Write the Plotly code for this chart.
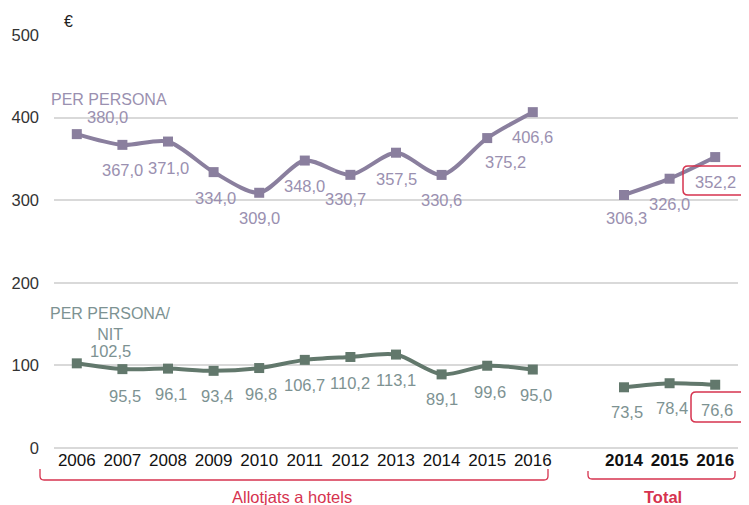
import plotly.graph_objects as go

# ---- data ----
hotel_years = ["2006", "2007", "2008", "2009", "2010", "2011", "2012", "2013", "2014", "2015", "2016"]
total_years = ["2014", "2015", "2016"]
hotel_per_persona = [380.0, 367.0, 371.0, 334.0, 309.0, 348.0, 330.7, 357.5, 330.6, 375.2, 406.6]
total_per_persona = [306.3, 326.0, 352.2]
hotel_per_nit = [102.5, 95.5, 96.1, 93.4, 96.8, 106.7, 110.2, 113.1, 89.1, 99.6, 95.0]
total_per_nit = [73.5, 78.4, 76.6]
y_ticks = [0, 100, 200, 300, 400, 500]

# ---- styling / positions ----
hotel_x = list(range(len(hotel_years)))
total_x = [len(hotel_years) + 1 + i for i in range(len(total_years))]
PURPLE = "#8a7f9e"
PURPLE_TXT = "#9a90b0"
GREEN = "#62786c"
GREEN_TXT = "#7d9292"
RED = "#d6334f"
FONT = "Arial, Liberation Sans, sans-serif"

OFF = 8  # page body margin
W, H = 749 - OFF, 505 - OFF
L, R, T, B = 54 - OFF, 11, 35 - OFF, 57
PW, PH = W - L - R, H - T - B

def px(x):
    return (x - OFF - L) / PW

def py(y):
    return (OFF + H - B - y) / PH

# label offsets (xshift, yshift) in px
pp_hotel_off = [(31, 17), (0, -25), (0, -26), (2, -26), (0, -25), (0, -25), (-5, -24),
                (0, -26), (0, -25), (18, -24), (0, -25)]
pp_total_off = [(2, -23), (0, -25), (0, -25)]
pn_hotel_off = [(34, 12), (3, -27), (3, -25), (3, -25), (2, -26), (0, -25), (0, -26),
                (0, -25), (0, -25), (3, -26), (3, -25)]
pn_total_off = [(3, -25), (2, -25), (2, -25)]

def fmt(v):
    return f"{v:.1f}".replace(".", ",")

fig = go.Figure()

def add_series(xs, ys, color):
    fig.add_trace(go.Scatter(
        x=xs, y=ys, mode="lines+markers",
        line=dict(color=color, width=4, shape="spline", smoothing=0.8),
        marker=dict(symbol="square", size=10, color=color),
        showlegend=False, hoverinfo="skip"))

add_series(hotel_x, hotel_per_persona, PURPLE)
add_series(total_x, total_per_persona, PURPLE)
add_series(hotel_x, hotel_per_nit, GREEN)
add_series(total_x, total_per_nit, GREEN)

annotations = []

def add_labels(xs, ys, offs, color):
    for x, y, (dx, dy) in zip(xs, ys, offs):
        annotations.append(dict(
            x=x, y=y, xref="x", yref="y", text=fmt(y), showarrow=False,
            xshift=dx, yshift=dy, font=dict(family=FONT, size=16.5, color=color)))

add_labels(hotel_x, hotel_per_persona, pp_hotel_off, PURPLE_TXT)
add_labels(total_x, total_per_persona, pp_total_off, PURPLE_TXT)
add_labels(hotel_x, hotel_per_nit, pn_hotel_off, GREEN_TXT)
add_labels(total_x, total_per_nit, pn_total_off, GREEN_TXT)

# series names and unit
annotations.append(dict(x=px(49), y=py(100), xref="paper", yref="paper", xanchor="left",
                        yanchor="middle", showarrow=False, text="PER PERSONA",
                        font=dict(family=FONT, size=16, color=PURPLE_TXT)))
annotations.append(dict(x=px(110), y=py(324), xref="paper", yref="paper", xanchor="center",
                        yanchor="middle", showarrow=False, text="PER PERSONA/<br>NIT", align="center",
                        font=dict(family=FONT, size=16, color=GREEN_TXT)))
annotations.append(dict(x=px(68), y=py(22), xref="paper", yref="paper", xanchor="center",
                        yanchor="middle", showarrow=False, text="€",
                        font=dict(family=FONT, size=16, color="#222222")))
# group labels
annotations.append(dict(x=px(292), y=py(497), xref="paper", yref="paper", xanchor="center",
                        yanchor="middle", showarrow=False, text="Allotjats a hotels",
                        font=dict(family=FONT, size=16.5, color=RED)))
annotations.append(dict(x=px(663), y=py(497), xref="paper", yref="paper", xanchor="center",
                        yanchor="middle", showarrow=False, text="<b>Total</b>",
                        font=dict(family=FONT, size=16.5, color=RED)))

def brace(x0, x1, ytop, ybot, r=4):
    return (f"M {px(x0)},{py(ytop)} L {px(x0)},{py(ybot - r)} "
            f"Q {px(x0)},{py(ybot)} {px(x0 + r)},{py(ybot)} "
            f"L {px(x1 - r)},{py(ybot)} Q {px(x1)},{py(ybot)} {px(x1)},{py(ybot - r)} "
            f"L {px(x1)},{py(ytop)}")

def rbox(x0, y0, x1, y1, r=5):
    return (f"M {px(x0 + r)},{py(y0)} L {px(x1 - r)},{py(y0)} Q {px(x1)},{py(y0)} {px(x1)},{py(y0 + r)} "
            f"L {px(x1)},{py(y1 - r)} Q {px(x1)},{py(y1)} {px(x1 - r)},{py(y1)} "
            f"L {px(x0 + r)},{py(y1)} Q {px(x0)},{py(y1)} {px(x0)},{py(y1 - r)} "
            f"L {px(x0)},{py(y0 + r)} Q {px(x0)},{py(y0)} {px(x0 + r)},{py(y0)} Z")

shapes = [
    dict(type="path", xref="paper", yref="paper", path=brace(40, 548, 469, 480),
         line=dict(color=RED, width=1.3)),
    dict(type="path", xref="paper", yref="paper", path=brace(588, 735, 471, 479),
         line=dict(color=RED, width=1.3)),
    dict(type="path", xref="paper", yref="paper", path=rbox(683, 166, 748, 195),
         line=dict(color=RED, width=1.5)),
    dict(type="path", xref="paper", yref="paper", path=rbox(691, 392, 748, 422),
         line=dict(color=RED, width=1.5)),
]

tickvals = hotel_x + total_x
ticktext = hotel_years + [f"<b>{t}</b>" for t in total_years]

fig.update_layout(
    width=W, height=H,
    margin=dict(l=L, r=R, t=T, b=B),
    paper_bgcolor="white", plot_bgcolor="white",
    font=dict(family=FONT),
    annotations=annotations,
    shapes=shapes,
    xaxis=dict(range=[-0.5, 14.5], tickmode="array", tickvals=tickvals, ticktext=ticktext,
               showgrid=False, zeroline=False, showline=False, ticks="", automargin=False,
               tickfont=dict(family=FONT, size=17, color="#111111")),
    yaxis=dict(range=[0, 500], tickvals=y_ticks, showgrid=True, gridcolor="#d9d9d9",
               gridwidth=1.5, zeroline=True, zerolinecolor="#d9d9d9", zerolinewidth=1.5,
               showline=False, ticks="", ticklabelstandoff=14, automargin=False,
               tickfont=dict(family=FONT, size=16.5, color="#333333")),
)

fig.write_html("out.html")
